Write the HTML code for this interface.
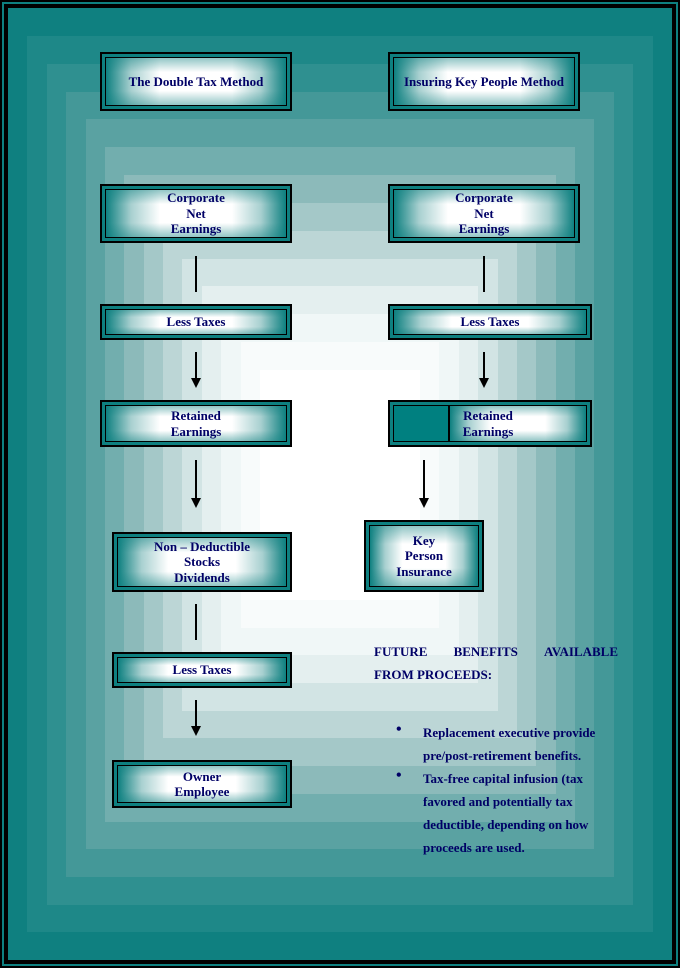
<!DOCTYPE html>
<html><head><meta charset="utf-8"><style>
*{margin:0;padding:0;box-sizing:border-box}
body{width:680px;height:968px;position:relative;overflow:hidden;background:#000;font-family:"Liberation Serif",serif;}
.r{position:absolute}
.frame{position:absolute;left:2px;top:2px;right:2px;bottom:2px;border:2px solid #0e8080;}
.frame2{position:absolute;left:5px;top:5px;right:5px;bottom:5px;border:2px solid #000;}
.box{position:absolute;border:2px solid #000;background:#0e8080;padding:3px}
.in{width:100%;height:100%;border:1px solid #000;display:flex;align-items:center;justify-content:center;text-align:center;
background:linear-gradient(90deg,#0e8080 0%,#a8d0d0 14%,#fff 30%,#fff 70%,#a8d0d0 86%,#0e8080 100%);
position:relative;color:#000066;font-weight:bold;font-size:13px;line-height:15.5px}
.in:before{content:"";position:absolute;inset:0;background:linear-gradient(180deg,rgba(14,128,128,.45) 0%,rgba(255,255,255,0) 30%,rgba(255,255,255,0) 70%,rgba(14,128,128,.45) 100%)}
.in span{position:relative}
.ln{position:absolute;width:2px;background:#000}
.ar{position:absolute;width:2px;background:#000}
.ar:after{content:"";position:absolute;left:-4px;bottom:-2px;border-left:5px solid transparent;border-right:5px solid transparent;border-top:10px solid #000}
.t{position:absolute;color:#000066;font-weight:bold;font-size:13px}
</style></head><body>
<div class="frame"></div><div class="frame2"></div>
<div class="r" style="left:8px;top:8px;width:664px;height:952px;background:#0f8080"></div>
<div class="r" style="left:27px;top:36px;width:626px;height:896px;background:#1e8888"></div>
<div class="r" style="left:47px;top:64px;width:586px;height:841px;background:#2f9090"></div>
<div class="r" style="left:66px;top:92px;width:548px;height:785px;background:#449898"></div>
<div class="r" style="left:86px;top:119px;width:508px;height:730px;background:#5aa2a2"></div>
<div class="r" style="left:105px;top:147px;width:470px;height:675px;background:#72aeae"></div>
<div class="r" style="left:124px;top:175px;width:432px;height:619px;background:#8cbaba"></div>
<div class="r" style="left:144px;top:203px;width:392px;height:563px;background:#a4c8c8"></div>
<div class="r" style="left:163px;top:231px;width:354px;height:507px;background:#bcd6d6"></div>
<div class="r" style="left:182px;top:259px;width:316px;height:452px;background:#d2e4e4"></div>
<div class="r" style="left:202px;top:286px;width:276px;height:397px;background:#e4efef"></div>
<div class="r" style="left:221px;top:314px;width:238px;height:341px;background:#f0f7f7"></div>
<div class="r" style="left:241px;top:342px;width:198px;height:286px;background:#f8fbfb"></div>
<div class="r" style="left:260px;top:370px;width:160px;height:230px;background:#ffffff"></div>

<div class="box" style="left:100px;top:52px;width:192px;height:59px"><div class="in"><span>The Double Tax Method</span></div></div>
<div class="box" style="left:388px;top:52px;width:192px;height:59px"><div class="in"><span>Insuring Key People Method</span></div></div>
<div class="box" style="left:100px;top:184px;width:192px;height:59px"><div class="in"><span>Corporate<br>Net<br>Earnings</span></div></div>
<div class="box" style="left:388px;top:184px;width:192px;height:59px"><div class="in"><span>Corporate<br>Net<br>Earnings</span></div></div>
<div class="ln" style="left:195px;top:256px;height:36px"></div>
<div class="ln" style="left:483px;top:256px;height:36px"></div>
<div class="box" style="left:100px;top:304px;width:192px;height:36px"><div class="in"><span>Less Taxes</span></div></div>
<div class="box" style="left:388px;top:304px;width:204px;height:36px"><div class="in"><span>Less Taxes</span></div></div>
<div class="ar" style="left:195px;top:352px;height:34px"></div>
<div class="ar" style="left:483px;top:352px;height:34px"></div>
<div class="box" style="left:100px;top:400px;width:192px;height:47px"><div class="in"><span>Retained<br>Earnings</span></div></div>
<div class="box" style="left:388px;top:400px;width:204px;height:47px;display:flex"><div style="width:56px;height:100%;border:1px solid #000;background:#008080"></div><div class="in" style="flex:1"><span style="margin-right:60px">Retained<br>Earnings</span></div></div>
<div class="ar" style="left:195px;top:460px;height:46px"></div>
<div class="ar" style="left:423px;top:460px;height:46px"></div>
<div class="box" style="left:112px;top:532px;width:180px;height:60px"><div class="in"><span>Non – Deductible<br>Stocks<br>Dividends</span></div></div>
<div class="box" style="left:364px;top:520px;width:120px;height:72px"><div class="in"><span>Key<br>Person<br>Insurance</span></div></div>
<div class="ln" style="left:195px;top:604px;height:36px"></div>
<div class="box" style="left:112px;top:652px;width:180px;height:36px"><div class="in"><span>Less Taxes</span></div></div>
<div class="ar" style="left:195px;top:700px;height:34px"></div>
<div class="box" style="left:112px;top:760px;width:180px;height:48px"><div class="in"><span>Owner<br>Employee</span></div></div>

<div class="t" style="left:374px;top:644px;width:244px;display:flex;justify-content:space-between"><span>FUTURE</span><span>BENEFITS</span><span>AVAILABLE</span></div>
<div class="t" style="left:374px;top:667px">FROM PROCEEDS:</div>
<div class="t" style="left:396px;top:721px;font-size:16px">•</div>
<div class="t" style="left:423px;top:721px;line-height:23px">Replacement executive provide<br>pre/post-retirement benefits.</div>
<div class="t" style="left:396px;top:767px;font-size:16px">•</div>
<div class="t" style="left:423px;top:767px;line-height:23px">Tax-free capital infusion (tax<br>favored and potentially tax<br>deductible, depending on how<br>proceeds are used.</div>
</body></html>
